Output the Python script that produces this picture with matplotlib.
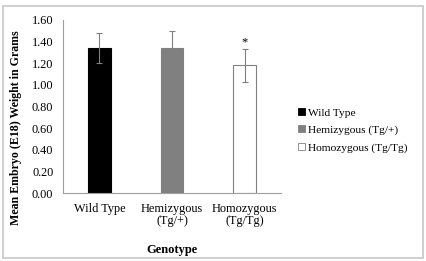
import matplotlib
matplotlib.use("Agg")
import matplotlib.pyplot as plt
from matplotlib.patches import Rectangle, Patch

categories = ["Wild Type", "Hemizygous\n(Tg/+)", "Homozygous\n(Tg/Tg)"]
legend_labels = ["Wild Type", "Hemizygous (Tg/+)", "Homozygous (Tg/Tg)"]
values = [1.34, 1.34, 1.18]
errors = [0.14, 0.155, 0.15]
yticks = [0.0, 0.2, 0.4, 0.6, 0.8, 1.0, 1.2, 1.4, 1.6]

plt.rcParams['font.family'] = ['Liberation Serif', 'DejaVu Serif']

W, H = 426, 261
fig = plt.figure(figsize=(W / 100, H / 100), dpi=100)
ax = fig.add_axes([63 / W, 1 - 193 / H, 218 / W, 173 / H])

facecolors = ["#000000", "#808080", "#ffffff"]
edgecolors = ["#000000", "#808080", "#808080"]
x = list(range(len(values)))
ax.bar(x, values, width=0.31, color=facecolors, edgecolor=edgecolors, linewidth=0.8)
ax.errorbar(x, values, yerr=errors, fmt='none', ecolor="#808080", elinewidth=0.8, capsize=2.5, capthick=0.8)
ax.text(x[2], values[2] + errors[2] + 0.01, "*", ha='center', va='bottom', fontsize=9)

ax.set_xlim(-0.5, 2.5)
ax.set_ylim(0, 1.6)
ax.set_yticks(yticks)
ax.set_yticklabels([f"{t:.2f}" for t in yticks], fontsize=8.8)
ax.set_xticks(x)
ax.set_xticklabels(categories, fontsize=8.8, linespacing=1.0)
ax.tick_params(axis='y', length=0, pad=7)
ax.tick_params(axis='x', length=0, pad=7)
for s in ['top', 'right']:
    ax.spines[s].set_visible(False)
for s in ['left', 'bottom']:
    ax.spines[s].set_color("#a0a0a0")
    ax.spines[s].set_linewidth(0.8)

fig.text(16 / W, 1 - 128 / H, "Mean Embryo (E18) Weight in Grams", rotation=90,
         ha='center', va='center', fontsize=8.6, fontweight='bold')
fig.text(172 / W, 1 - 250 / H, "Genotype", ha='center', va='center',
         fontsize=9, fontweight='bold')

handles = [Patch(facecolor=fc, edgecolor=ec, linewidth=0.6) for fc, ec in zip(facecolors, edgecolors)]
fig.legend(handles, legend_labels, loc='upper left', bbox_to_anchor=(0.69, 0.603),
           frameon=False, fontsize=8.2, handlelength=0.55, handleheight=0.55,
           handletextpad=0.25, labelspacing=0.68, borderaxespad=0)

fig.patches.append(Rectangle((0.008, 0.012), 0.984, 0.965, transform=fig.transFigure,
                             fill=False, edgecolor="#d0d0d0", linewidth=1.5))

fig.savefig("out.png", dpi=100)
